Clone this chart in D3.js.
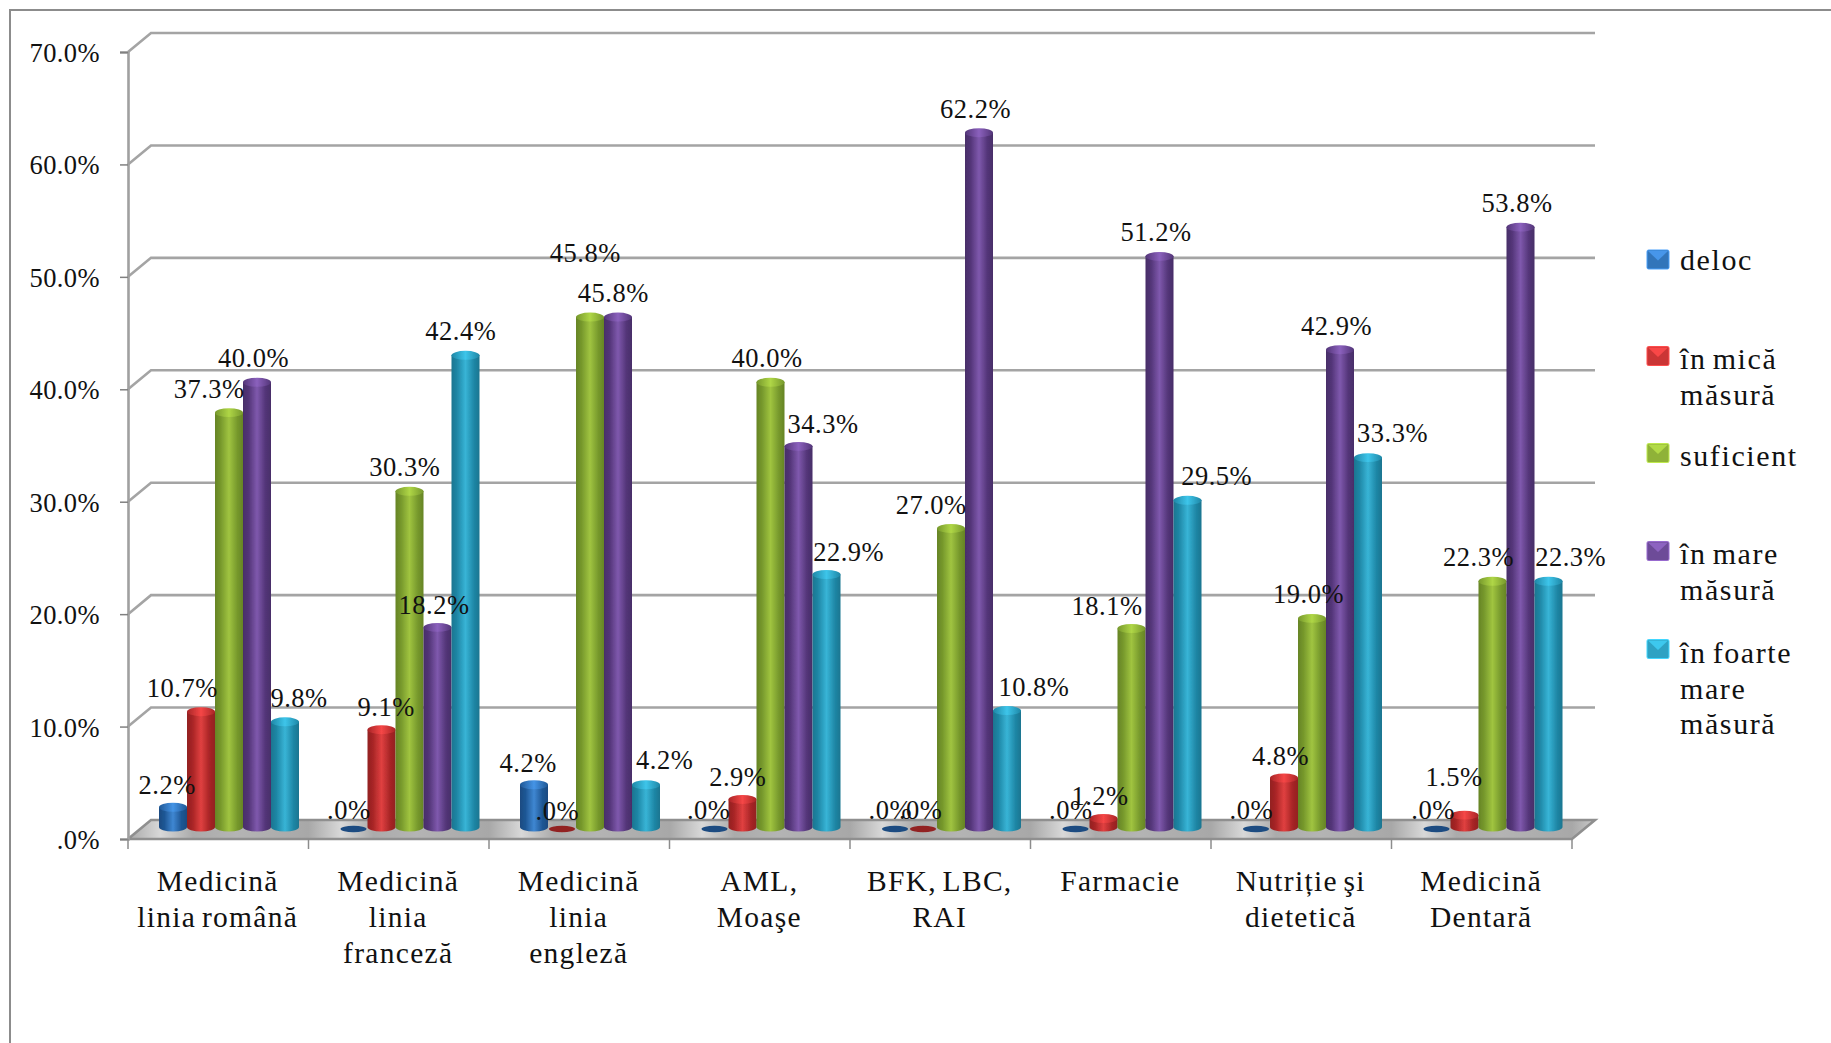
<!DOCTYPE html>
<html><head><meta charset="utf-8">
<style>html,body{margin:0;padding:0;background:#fff;overflow:hidden}svg{display:block}
text{font-family:"Liberation Serif",serif;fill:#111}</style>
<script src="https://cdn.jsdelivr.net/npm/d3@7"></script></head><body>
<svg id="c" width="1831" height="1043"></svg>
<script>
const categories=[["Medicină","linia română"],["Medicină","linia","franceză"],["Medicină","linia","engleză"],["AML,","Moaşe"],["BFK, LBC,","RAI"],["Farmacie"],["Nutriție şi","dietetică"],["Medicină","Dentară"]];
const seriesNames=[["deloc"],["în mică","măsură"],["suficient"],["în mare","măsură"],["în foarte","mare","măsură"]];
const deloc=[2.2,0,4.2,0,0,0,0,0];
const inMica=[10.7,9.1,0,2.9,0,1.2,4.8,1.5];
const suficient=[37.3,30.3,45.8,40.0,27.0,18.1,19.0,22.3];
const inMare=[40.0,18.2,45.8,34.3,62.2,51.2,42.9,53.8];
const inFoarteMare=[9.8,42.4,4.2,22.9,10.8,29.5,33.3,22.3];
const yTicks=[0,10,20,30,40,50,60,70];
const seriesValues=[deloc,inMica,suficient,inMare,inFoarteMare];
// hand placement of the data labels, relative to the default spot above each bar
const nudgeX=[[-5,-4,-5,-5,-4,-4,-4,-3],[-16,4,-4,-4,-2,-3,-3,-9],[-17,-4,-4,-3,-17,-21,-3,-12],[-3,-3,-4,21,-3,-3,-3,-3],[12,-4,16,19,23,25,21,19]];
const nudgeY=[[1,1.5,2,1.5,1.5,1.5,1.5,1.5],[0,1,2.5,1.5,1.5,1,2,-12],[0,0,-34,0,0,1,0,0],[0,1,0,1,0,0,0,0],[0,0,-1,1,0,0,-1,0]];
const colors=[["#1f5795","#3f87d2"],["#a82526","#e04040"],["#76982c","#a0c440"],["#533578","#7f59ad"],["#1f87a6","#38b4d6"]];
const legendSwatchY=[259.5,356,453,551,649];
const legendTextY=[270,369,466,564,663];

const svg=d3.select("#c"),defs=svg.append("defs");
const W=1831,d3x=23,d3y=19,topRise=7,baseRise=12,k=1831/1568;
const x0=d3.scaleBand().domain(d3.range(categories.length)).range([128,1572]);
const x1=d3.scaleBand().domain(d3.range(seriesNames.length)).range([31,171]);
const y=d3.scaleLinear().domain([0,70]).range([839,52]);
const fmt=d=>(d===0?".0":d.toFixed(1))+"%";

colors.forEach((c,i)=>{
  const g=defs.append("linearGradient").attr("id","g"+i);
  [[0,d3.color(c[0]).darker(.4)],[.2,c[0]],[.5,c[1]],[.8,c[0]],[1,d3.color(c[0]).darker(.4)]].forEach(s=>g.append("stop").attr("offset",s[0]).attr("stop-color",s[1]));
  const t=defs.append("linearGradient").attr("id","t"+i);
  [[0,c[0]],[.5,d3.color(c[1]).brighter(.25)],[1,c[0]]].forEach(s=>t.append("stop").attr("offset",s[0]).attr("stop-color",s[1]));
});
const L=x0.range()[0],R=x0.range()[1];
const fl=defs.append("linearGradient").attr("id","floor").attr("gradientUnits","userSpaceOnUse")
  .attr("spreadMethod","repeat").attr("x1",L).attr("x2",L+x0.step()).attr("y1",0).attr("y2",0);
[[0,"#a8a8a8"],[.18,"#d8d8d8"],[.36,"#ababab"],[.6,"#b4b4b4"],[1,"#a8a8a8"]].forEach(s=>fl.append("stop").attr("offset",s[0]).attr("stop-color",s[1]));
defs.append("filter").attr("id","soft").append("feGaussianBlur").attr("stdDeviation",.7);

// frame
svg.append("path").attr("d",`M10,1043V10H${W}`).attr("fill","none").attr("stroke","#8c8c8c").attr("stroke-width",2);

// walls and grid
const grid=svg.append("g").attr("fill","none").attr("stroke","#a4a4a4").attr("stroke-width",2.6).attr("filter","url(#soft)");
grid.selectAll("path").data(yTicks.filter(d=>d>0)).join("path")
  .attr("d",d=>`M${L},${y(d)}L${L+d3x},${y(d)-d3y}H${R+d3x}`);
svg.append("path").attr("filter","url(#soft)").attr("fill","url(#floor)")
  .attr("d",`M${L},${y(0)}L${L+d3x},${y(0)-d3y}H${R+d3x}L${R},${y(0)}Z`);
svg.append("path").attr("filter","url(#soft)").attr("fill","none").attr("stroke","#8f8f8f").attr("stroke-width",2.6)
  .attr("d",`M${L},${y(0)}L${L+d3x},${y(0)-d3y}H${R+d3x}L${R},${y(0)}H${L}`);

// y axis
const ax=svg.append("g").attr("transform",`translate(${L},0)`)
  .call(d3.axisLeft(y).tickValues(yTicks).tickFormat(fmt).tickSize(8).tickPadding(20));
ax.select(".domain").attr("stroke","#a0a0a0").attr("stroke-width",2.6);
ax.selectAll("line").attr("stroke","#808080").attr("stroke-width",1.5);
ax.selectAll("text").attr("font-size",26.5).attr("letter-spacing",.4).attr("fill","#111").attr("dy","0.36em");

// x axis ticks + labels
const tg=svg.append("g").attr("stroke","#8c8c8c").attr("stroke-width",1.5);
tg.selectAll("line").data(d3.range(categories.length+1)).join("line")
  .attr("x1",i=>L+i*x0.step()).attr("x2",i=>L+i*x0.step()).attr("y1",y(0)).attr("y2",y(0)+10);
const cat=svg.append("g").selectAll("text").data(categories).join("text")
  .attr("text-anchor","middle").attr("font-size",29.5).attr("letter-spacing",1.3).attr("word-spacing",-3);
cat.selectAll("tspan").data((d,i)=>d.map(t=>({t,i}))).join("tspan")
  .attr("x",d=>x0(d.i)+x0.bandwidth()/2-.5).attr("y",(d,j)=>891+j*36).text(d=>d.t);

// cylinders
const w=x1.bandwidth(),ry=w*.16;
const marks=[];
seriesValues.forEach((vals,s)=>vals.forEach((v,c)=>marks.push({s,c,v})));
marks.sort((a,b)=>a.c-b.c||a.s-b.s);
const barG=svg.append("g").attr("filter","url(#soft)");
marks.forEach(m=>{
  const xl=x0(m.c)+x1(m.s),base=y(0)-baseRise,top=y(m.v)-topRise;
  if(m.v===0){
    barG.append("ellipse").attr("cx",xl+w/2).attr("cy",y(0)-10).attr("rx",w/2-1).attr("ry",ry*.7).attr("fill",d3.color(colors[m.s][0]).darker(.4));
    return;
  }
  barG.append("path").attr("fill",`url(#g${m.s})`)
    .attr("d",`M${xl},${top}V${base}A${w/2},${ry} 0 0 0 ${xl+w},${base}V${top}Z`);
  barG.append("ellipse").attr("cx",xl+w/2).attr("cy",top).attr("rx",w/2).attr("ry",ry).attr("fill",`url(#t${m.s})`);
});

// data labels
svg.append("g").selectAll("text").data(marks).join("text")
  .attr("text-anchor","middle").attr("font-size",26.5).attr("letter-spacing",.5)
  .attr("x",m=>x0(m.c)+x1(m.s)+w/2+nudgeX[m.s][m.c]*k)
  .attr("y",m=>y(m.v)-topRise-23.4+nudgeY[m.s][m.c]*k+8.5)
  .text(m=>fmt(m.v));

// legend
const leg=svg.append("g").selectAll("g").data(seriesNames).join("g");
leg.append("rect").attr("x",1647).attr("width",22).attr("height",19).attr("y",(d,i)=>legendSwatchY[i]-9.5).attr("rx",1.5)
  .attr("fill",(d,i)=>d3.interpolateRgb(colors[i][0],colors[i][1])(.6)).attr("stroke",(d,i)=>d3.color(colors[i][1]).brighter(.5)).attr("stroke-width",1).attr("filter","url(#soft)");
leg.append("path").attr("fill",(d,i)=>d3.color(colors[i][1]).brighter(.3)).attr("filter","url(#soft)")
  .attr("d",(d,i)=>`M1648,${legendSwatchY[i]-8.5}H1668L1658,${legendSwatchY[i]+1}Z`);
leg.append("text").attr("font-size",30).attr("letter-spacing",1.6).attr("word-spacing",-3)
  .selectAll("tspan").data((d,i)=>d.map(t=>({t,i}))).join("tspan")
  .attr("x",1680).attr("y",(d,j)=>legendTextY[d.i]+j*35.5).text(d=>d.t);
</script></body></html>
